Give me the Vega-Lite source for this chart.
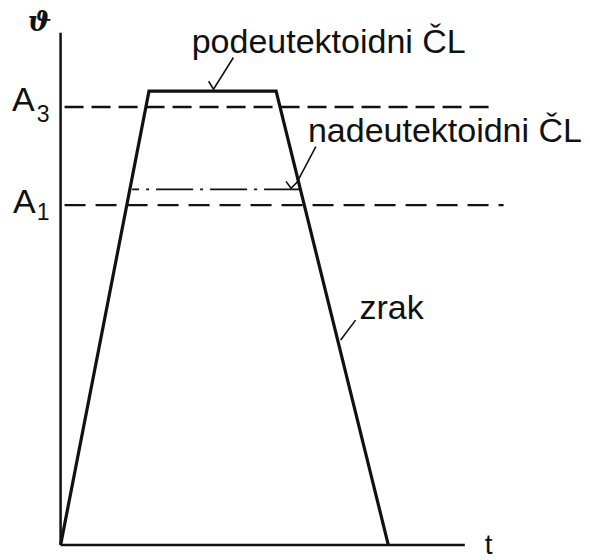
{
  "$schema": "https://vega.github.io/schema/vega-lite/v6.json",
  "autosize": {"type": "fit", "contains": "padding"},
  "width": 590,
  "height": 560,
  "padding": 0,
  "background": "white",
  "config": {"view": {"stroke": null}},
  "datasets": {
    "solid": [
      {"id": "axis_y", "o": 1, "t": 0, "v": 0},
      {"id": "axis_y", "o": 2, "t": 0, "v": 517},
      {"id": "axis_x", "o": 1, "t": 0, "v": 0},
      {"id": "axis_x", "o": 2, "t": 407, "v": 0},
      {"id": "trap", "o": 1, "t": 0, "v": 0},
      {"id": "trap", "o": 2, "t": 89, "v": 458},
      {"id": "trap", "o": 3, "t": 217, "v": 458},
      {"id": "trap", "o": 4, "t": 330, "v": 0},
      {"id": "lead1", "o": 1, "t": 149, "v": 468},
      {"id": "lead1", "o": 2, "t": 154, "v": 460},
      {"id": "lead1", "o": 3, "t": 174, "v": 492},
      {"id": "lead2", "o": 1, "t": 227, "v": 367},
      {"id": "lead2", "o": 2, "t": 232, "v": 360},
      {"id": "lead2", "o": 3, "t": 238, "v": 366},
      {"id": "lead2", "o": 4, "t": 257, "v": 402},
      {"id": "lead3", "o": 1, "t": 282, "v": 207},
      {"id": "lead3", "o": 2, "t": 297, "v": 227}
    ],
    "dashA3": [
      {"id": "A3", "o": 1, "t": 4, "v": 442},
      {"id": "A3", "o": 2, "t": 435, "v": 442}
    ],
    "dashA1": [
      {"id": "A1", "o": 1, "t": 4, "v": 343},
      {"id": "A1", "o": 2, "t": 446, "v": 343}
    ],
    "dashdot": [
      {"id": "dd", "o": 1, "t": 72, "v": 359},
      {"id": "dd", "o": 2, "t": 241, "v": 359}
    ],
    "labels": [
      {"kind": "big", "text": "A", "t": -49, "v": 438},
      {"kind": "sub", "text": "3", "t": -24, "v": 427},
      {"kind": "big", "text": "A", "t": -48, "v": 335},
      {"kind": "sub", "text": "1", "t": -24, "v": 328},
      {"kind": "big", "text": "podeutektoidni  ČL", "t": 132, "v": 497},
      {"kind": "big", "text": "nadeutektoidni  ČL", "t": 249, "v": 407},
      {"kind": "big", "text": "zrak", "t": 301, "v": 228},
      {"kind": "sym", "text": "ϑ", "t": -33, "v": 519},
      {"kind": "tlabel", "text": "t", "t": 427, "v": -9}
    ]
  },
  "encoding": {
    "x": {"field": "t", "type": "quantitative", "scale": {"domain": [-61, 529], "nice": false, "zero": false}, "axis": null},
    "y": {"field": "v", "type": "quantitative", "scale": {"domain": [-10, 550], "nice": false, "zero": false}, "axis": null}
  },
  "layer": [
    {
      "data": {"name": "solid"},
      "transform": [{"filter": "datum.id === 'axis_x' || datum.id === 'axis_y'"}],
      "mark": {"type": "line", "color": "#111", "strokeWidth": 2.5, "strokeCap": "butt"},
      "encoding": {"detail": {"field": "id"}, "order": {"field": "o"}}
    },
    {
      "data": {"name": "solid"},
      "transform": [{"filter": "datum.id === 'trap'"}],
      "mark": {"type": "line", "color": "#111", "strokeWidth": 3.2, "strokeJoin": "miter"},
      "encoding": {"detail": {"field": "id"}, "order": {"field": "o"}}
    },
    {
      "data": {"name": "solid"},
      "transform": [{"filter": "indexof(datum.id, 'lead') === 0"}],
      "mark": {"type": "line", "color": "#111", "strokeWidth": 1.6},
      "encoding": {"detail": {"field": "id"}, "order": {"field": "o"}}
    },
    {
      "data": {"name": "dashA3"},
      "mark": {"type": "line", "color": "#111", "strokeWidth": 2.6, "strokeDash": [19, 8]},
      "encoding": {"detail": {"field": "id"}, "order": {"field": "o"}}
    },
    {
      "data": {"name": "dashA1"},
      "mark": {"type": "line", "color": "#111", "strokeWidth": 2.2, "strokeDash": [21, 10]},
      "encoding": {"detail": {"field": "id"}, "order": {"field": "o"}}
    },
    {
      "data": {"name": "dashdot"},
      "mark": {"type": "line", "color": "#111", "strokeWidth": 1.8, "strokeDash": [37, 7, 3, 7], "strokeDashOffset": 30},
      "encoding": {"detail": {"field": "id"}, "order": {"field": "o"}}
    },
    {
      "data": {"name": "labels"},
      "transform": [{"filter": "datum.kind === 'big'"}],
      "mark": {"type": "text", "font": "Liberation Sans", "fontSize": 34, "align": "left", "baseline": "alphabetic", "color": "#111"},
      "encoding": {"text": {"field": "text"}}
    },
    {
      "data": {"name": "labels"},
      "transform": [{"filter": "datum.kind === 'sub'"}],
      "mark": {"type": "text", "font": "Liberation Sans", "fontSize": 23, "align": "left", "baseline": "alphabetic", "color": "#111"},
      "encoding": {"text": {"field": "text"}}
    },
    {
      "data": {"name": "labels"},
      "transform": [{"filter": "datum.kind === 'tlabel'"}],
      "mark": {"type": "text", "font": "Liberation Sans", "fontSize": 28, "align": "left", "baseline": "alphabetic", "color": "#111"},
      "encoding": {"text": {"field": "text"}}
    },
    {
      "data": {"name": "labels"},
      "transform": [{"filter": "datum.kind === 'sym'"}],
      "mark": {"type": "text", "font": "DejaVu Serif", "fontStyle": "italic", "fontWeight": "bold", "fontSize": 28, "align": "left", "baseline": "alphabetic", "color": "#111"},
      "encoding": {"text": {"field": "text"}}
    }
  ]
}
